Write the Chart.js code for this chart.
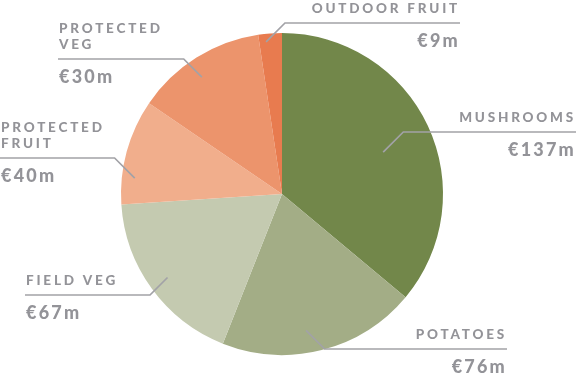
<!DOCTYPE html>
<html>
<head>
<meta charset="utf-8">
<script src="https://cdn.jsdelivr.net/npm/chart.js@4.4.1/dist/chart.umd.min.js"></script>
<style>
  html, body { margin: 0; padding: 0; background: #fff; }
  #wrap { width: 576px; height: 376px; }
</style>
</head>
<body>
<div id="wrap"><canvas id="pie"></canvas></div>
<script>
// categories, clockwise from 12 o'clock
var categories = ["MUSHROOMS", "POTATOES", "FIELD VEG", "PROTECTED\nFRUIT", "PROTECTED\nVEG", "OUTDOOR FRUIT"];
// value printed next to each slice (EUR m)
var amounts = [137, 76, 67, 40, 30, 9];
var sliceShares = [129.5, 71.5, 64.5, 38, 47, 8.5];
var sliceColors = ["#72874a", "#a3ad86", "#c4cab0", "#f1ae8c", "#ec946c", "#e87b4f"];

// leader line layout per slice: where on the slice it starts, height of the
// horizontal rule, where the rule ends and which side the text sits on
var leaderLayout = [
    { r: 0.68, at: 0.52, lineY: 132, endX: 576, side: "right" },
    { r: 0.86, at: 0.56, lineY: 349, endX: 507, side: "right" },
    { r: 0.88, at: 0.50, lineY: 295, endX: 25,  side: "left" },
    { r: 0.92, at: 0.26, lineY: 158, endX: 0,   side: "left" },
    { r: 0.88, at: 0.45, lineY: 59,  endX: 58,  side: "left" },
    { r: 0.95, at: 0.30, lineY: 23,  endX: 460, side: "right" }
];

var leaderPlugin = {
    id: 'leaders',
    afterDatasetsDraw: function (chart) {
        var ctx = chart.ctx;
        var meta = chart.getDatasetMeta(0);
        ctx.save();
        meta.data.forEach(function (arc, i) {
            var L = leaderLayout[i];
            var p = arc.getProps(['x', 'y', 'startAngle', 'endAngle', 'outerRadius'], true);
            var a = p.startAngle + (p.endAngle - p.startAngle) * L.at;
            var ax = p.x + Math.cos(a) * p.outerRadius * L.r;
            var ay = p.y + Math.sin(a) * p.outerRadius * L.r;
            var dir = L.side == "right" ? 1 : -1;
            var ex = ax + dir * Math.abs(L.lineY - ay);

            ctx.strokeStyle = "#a2a2a7";
            ctx.lineWidth = 1.7;
            ctx.beginPath();
            ctx.moveTo(ax, ay);
            ctx.lineTo(ex, L.lineY);
            ctx.lineTo(L.endX, L.lineY);
            ctx.stroke();

            ctx.fillStyle = "#939398";
            ctx.textAlign = L.side == "right" ? "right" : "left";
            ctx.textBaseline = "alphabetic";
            var tx = L.side == "right" ? L.endX : L.endX + 1;

            ctx.font = "900 13.5px Lato";
            ctx.letterSpacing = "2.8px";
            var lines = categories[i].split("\n");
            for (var k = 0; k < lines.length; k++) {
                var off = (lines.length - 1 - k) * 16;
                ctx.fillText(lines[k], tx, L.lineY - 10 - off);
            }

            ctx.font = "900 18px Lato";
            ctx.letterSpacing = "2.2px";
            ctx.fillText("\u20ac" + amounts[i] + "m", tx, L.lineY + 24);
        });
        ctx.restore();
    }
};

var chart = new Chart(document.getElementById('pie'), {
    type: 'pie',
    data: {
        labels: categories,
        datasets: [{
            data: sliceShares,
            backgroundColor: sliceColors,
            borderWidth: 0
        }]
    },
    options: {
        responsive: true,
        maintainAspectRatio: false,
        animation: false,
        layout: { padding: { left: 121, right: 133, top: 33, bottom: 21 } },
        plugins: {
            legend: { display: false },
            tooltip: { enabled: false }
        }
    },
    plugins: [leaderPlugin]
});
</script>
</body>
</html>
